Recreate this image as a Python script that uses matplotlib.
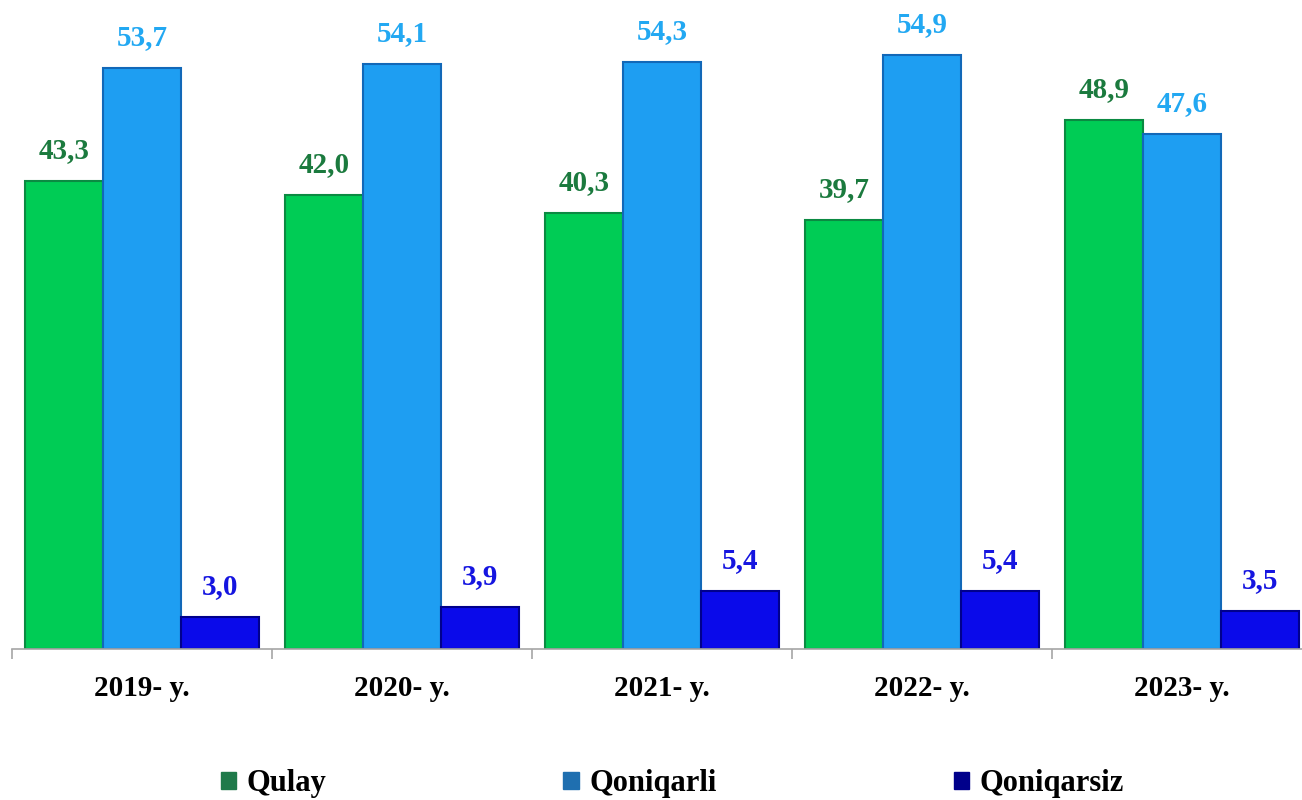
import matplotlib
matplotlib.use("Agg")
import matplotlib.pyplot as plt
from matplotlib.patches import Patch
import numpy as np

years = ["2019- y.", "2020- y.", "2021- y.", "2022- y.", "2023- y."]
series_names = ["Qulay", "Qoniqarli", "Qoniqarsiz"]
qulay = [43.3, 42.0, 40.3, 39.7, 48.9]
qoniqarli = [53.7, 54.1, 54.3, 54.9, 47.6]
qoniqarsiz = [3.0, 3.9, 5.4, 5.4, 3.5]

fills = ["#00CC55", "#1E9EF2", "#0A0AEA"]
edges = ["#0B8A42", "#1268B8", "#00008C"]
label_colors = ["#1B7A3E", "#22A8F2", "#1515E0"]
legend_colors = ["#1F7A4A", "#1F6FB0", "#00008B"]

plt.rcParams['font.family'] = ['Liberation Serif', 'DejaVu Serif']

fig = plt.figure(figsize=(13.02, 8.0), dpi=100)
ax = fig.add_axes([12/1302, 1 - 649/800, 1300/1302, 649/800])

x = np.arange(len(years))
w = 0.3
data = [qulay, qoniqarli, qoniqarsiz]
for k, vals in enumerate(data):
    pos = x + (k - 1) * w
    bars = ax.bar(pos, vals, width=w, color=fills[k], edgecolor=edges[k],
                  linewidth=1.5, zorder=2)
    for b, v in zip(bars, vals):
        ax.annotate(f"{v:.1f}".replace(".", ","),
                    (b.get_x() + b.get_width() / 2, v),
                    xytext=(0, 12), textcoords="offset points",
                    ha="center", va="bottom", fontsize=21, fontweight="bold",
                    color=label_colors[k])

ax.set_xlim(-0.5, len(years) - 0.5)
ax.set_ylim(0, 60)
for s in ["top", "right", "left"]:
    ax.spines[s].set_visible(False)
ax.spines["bottom"].set_color("#A6A6A6")
ax.spines["bottom"].set_linewidth(1.2)
ax.set_yticks([])

ax.set_xticks(x)
ax.set_xticklabels(years, fontsize=21, fontweight="bold")
ax.tick_params(axis="x", which="major", length=0, pad=19)
ax.set_xticks(np.arange(-0.5, len(years) + 0.5, 1.0), minor=True)
ax.tick_params(axis="x", which="minor", length=7, width=1.2, color="#A6A6A6")

handles = [Patch(facecolor=c, edgecolor=c) for c in legend_colors]
fig.legend(handles, series_names, loc="center", bbox_to_anchor=(0.5165, 0.02),
           ncol=3, frameon=False, prop={"size": 22, "weight": "bold"},
           handlelength=0.5, handleheight=0.5, handletextpad=0.35,
           columnspacing=7.75)

fig.savefig("out.png", dpi=100)
